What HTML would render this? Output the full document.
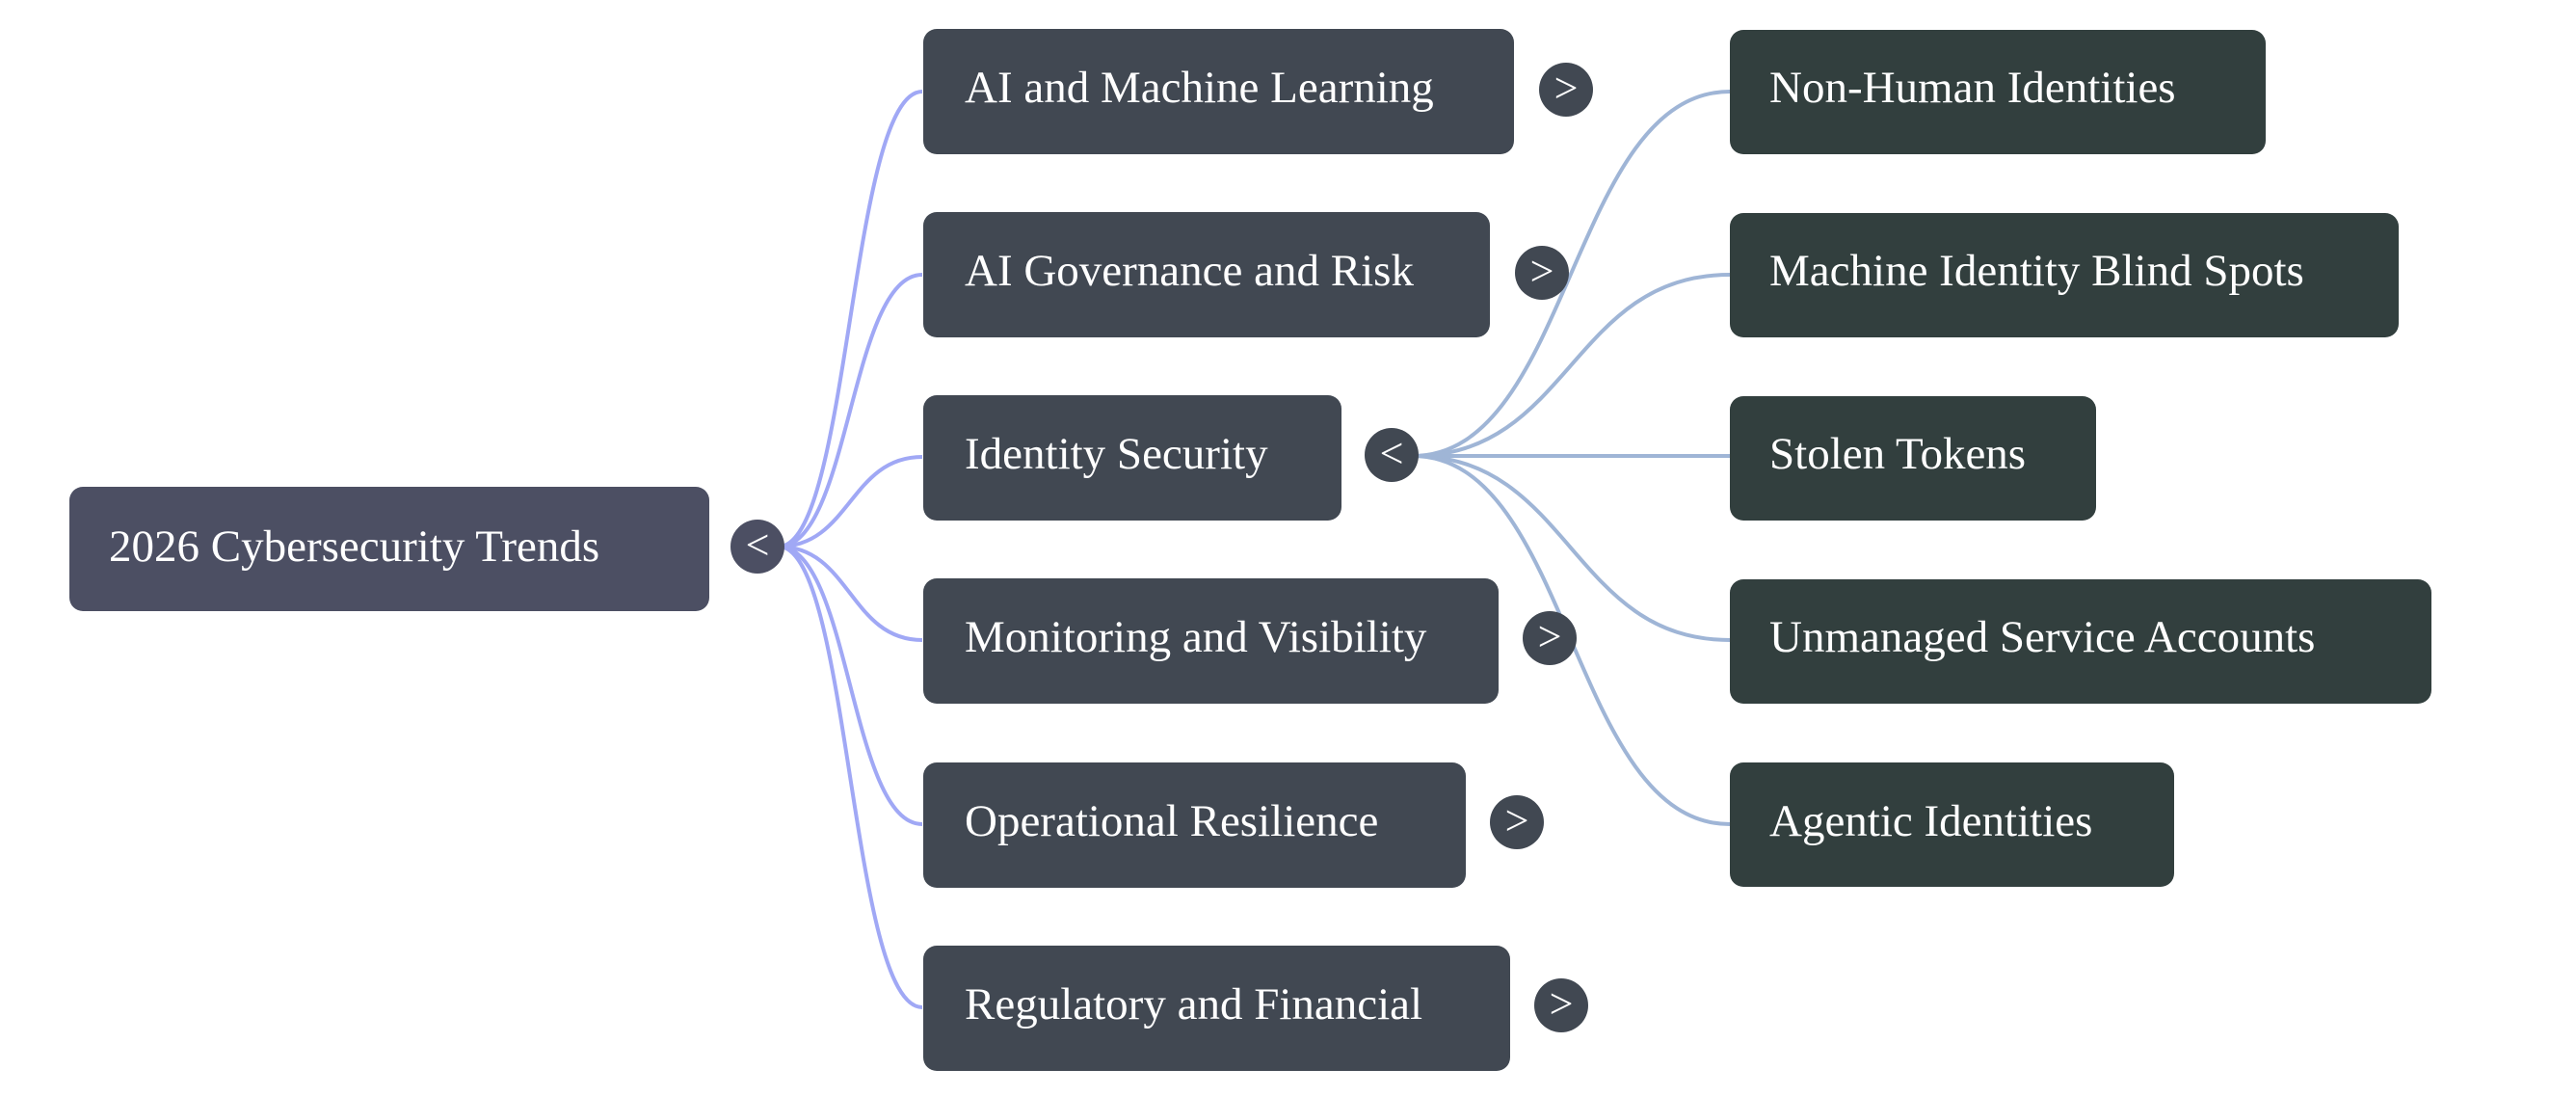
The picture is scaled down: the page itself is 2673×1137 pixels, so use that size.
<!DOCTYPE html>
<html><head><meta charset="utf-8"><style>
html,body{margin:0;padding:0;background:#fff;}
svg{display:block;}
text{font-family:"Liberation Serif",serif;fill:#fff;}
</style></head><body>
<svg width="2673" height="1137" viewBox="0 0 2673 1137" xmlns="http://www.w3.org/2000/svg">
<g fill="none" stroke="#a0a8f5" stroke-width="4">
<path d="M808 567 C882 567 882 95 957 95"/>
<path d="M808 567 C882 567 882 285 957 285"/>
<path d="M808 567 C882 567 882 474 957 474"/>
<path d="M808 567 C882 567 882 664 957 664"/>
<path d="M808 567 C882 567 882 855 957 855"/>
<path d="M808 567 C882 567 882 1045 957 1045"/>
</g>
<g fill="none" stroke="#9fb5d6" stroke-width="4">
<path d="M1466 473 C1630 473 1630 95 1795 95"/>
<path d="M1466 473 C1630 473 1630 285 1795 285"/>
<path d="M1466 473 L1795 473"/>
<path d="M1466 473 C1630 473 1630 664 1795 664"/>
<path d="M1466 473 C1630 473 1630 855 1795 855"/>
</g>
<rect x="72" y="505" width="664" height="129" rx="14" fill="#4c4f63"/>
<text x="113" y="582" font-size="47">2026 Cybersecurity Trends</text>
<circle cx="786" cy="567" r="28" fill="#4c4f63"/>
<text x="786" y="580" font-size="44" text-anchor="middle">&lt;</text>
<g fill="#414852">
<rect x="958" y="30" width="613" height="130" rx="14"/>
<rect x="958" y="220" width="588" height="130" rx="14"/>
<rect x="958" y="410" width="434" height="130" rx="14"/>
<rect x="958" y="600" width="597" height="130" rx="14"/>
<rect x="958" y="791" width="563" height="130" rx="14"/>
<rect x="958" y="981" width="609" height="130" rx="14"/>
<circle cx="1625" cy="93" r="28"/>
<circle cx="1600" cy="283" r="28"/>
<circle cx="1444" cy="472" r="28"/>
<circle cx="1608" cy="662" r="28"/>
<circle cx="1574" cy="853" r="28"/>
<circle cx="1620" cy="1043" r="28"/>
</g>
<g font-size="47">
<text x="1001" y="106">AI and Machine Learning</text>
<text x="1001" y="296">AI Governance and Risk</text>
<text x="1001" y="486">Identity Security</text>
<text x="1001" y="676">Monitoring and Visibility</text>
<text x="1001" y="867">Operational Resilience</text>
<text x="1001" y="1057">Regulatory and Financial</text>
</g>
<g font-size="44" text-anchor="middle">
<text x="1625" y="106">&gt;</text>
<text x="1600" y="296">&gt;</text>
<text x="1444" y="485">&lt;</text>
<text x="1608" y="675">&gt;</text>
<text x="1574" y="866">&gt;</text>
<text x="1620" y="1056">&gt;</text>
</g>
<g fill="#323f3e">
<rect x="1795" y="31" width="556" height="129" rx="14"/>
<rect x="1795" y="221" width="694" height="129" rx="14"/>
<rect x="1795" y="411" width="380" height="129" rx="14"/>
<rect x="1795" y="601" width="728" height="129" rx="14"/>
<rect x="1795" y="791" width="461" height="129" rx="14"/>
</g>
<g font-size="47">
<text x="1836" y="106">Non-Human Identities</text>
<text x="1836" y="296">Machine Identity Blind Spots</text>
<text x="1836" y="486">Stolen Tokens</text>
<text x="1836" y="676">Unmanaged Service Accounts</text>
<text x="1836" y="867">Agentic Identities</text>
</g>
</svg>
</body></html>
